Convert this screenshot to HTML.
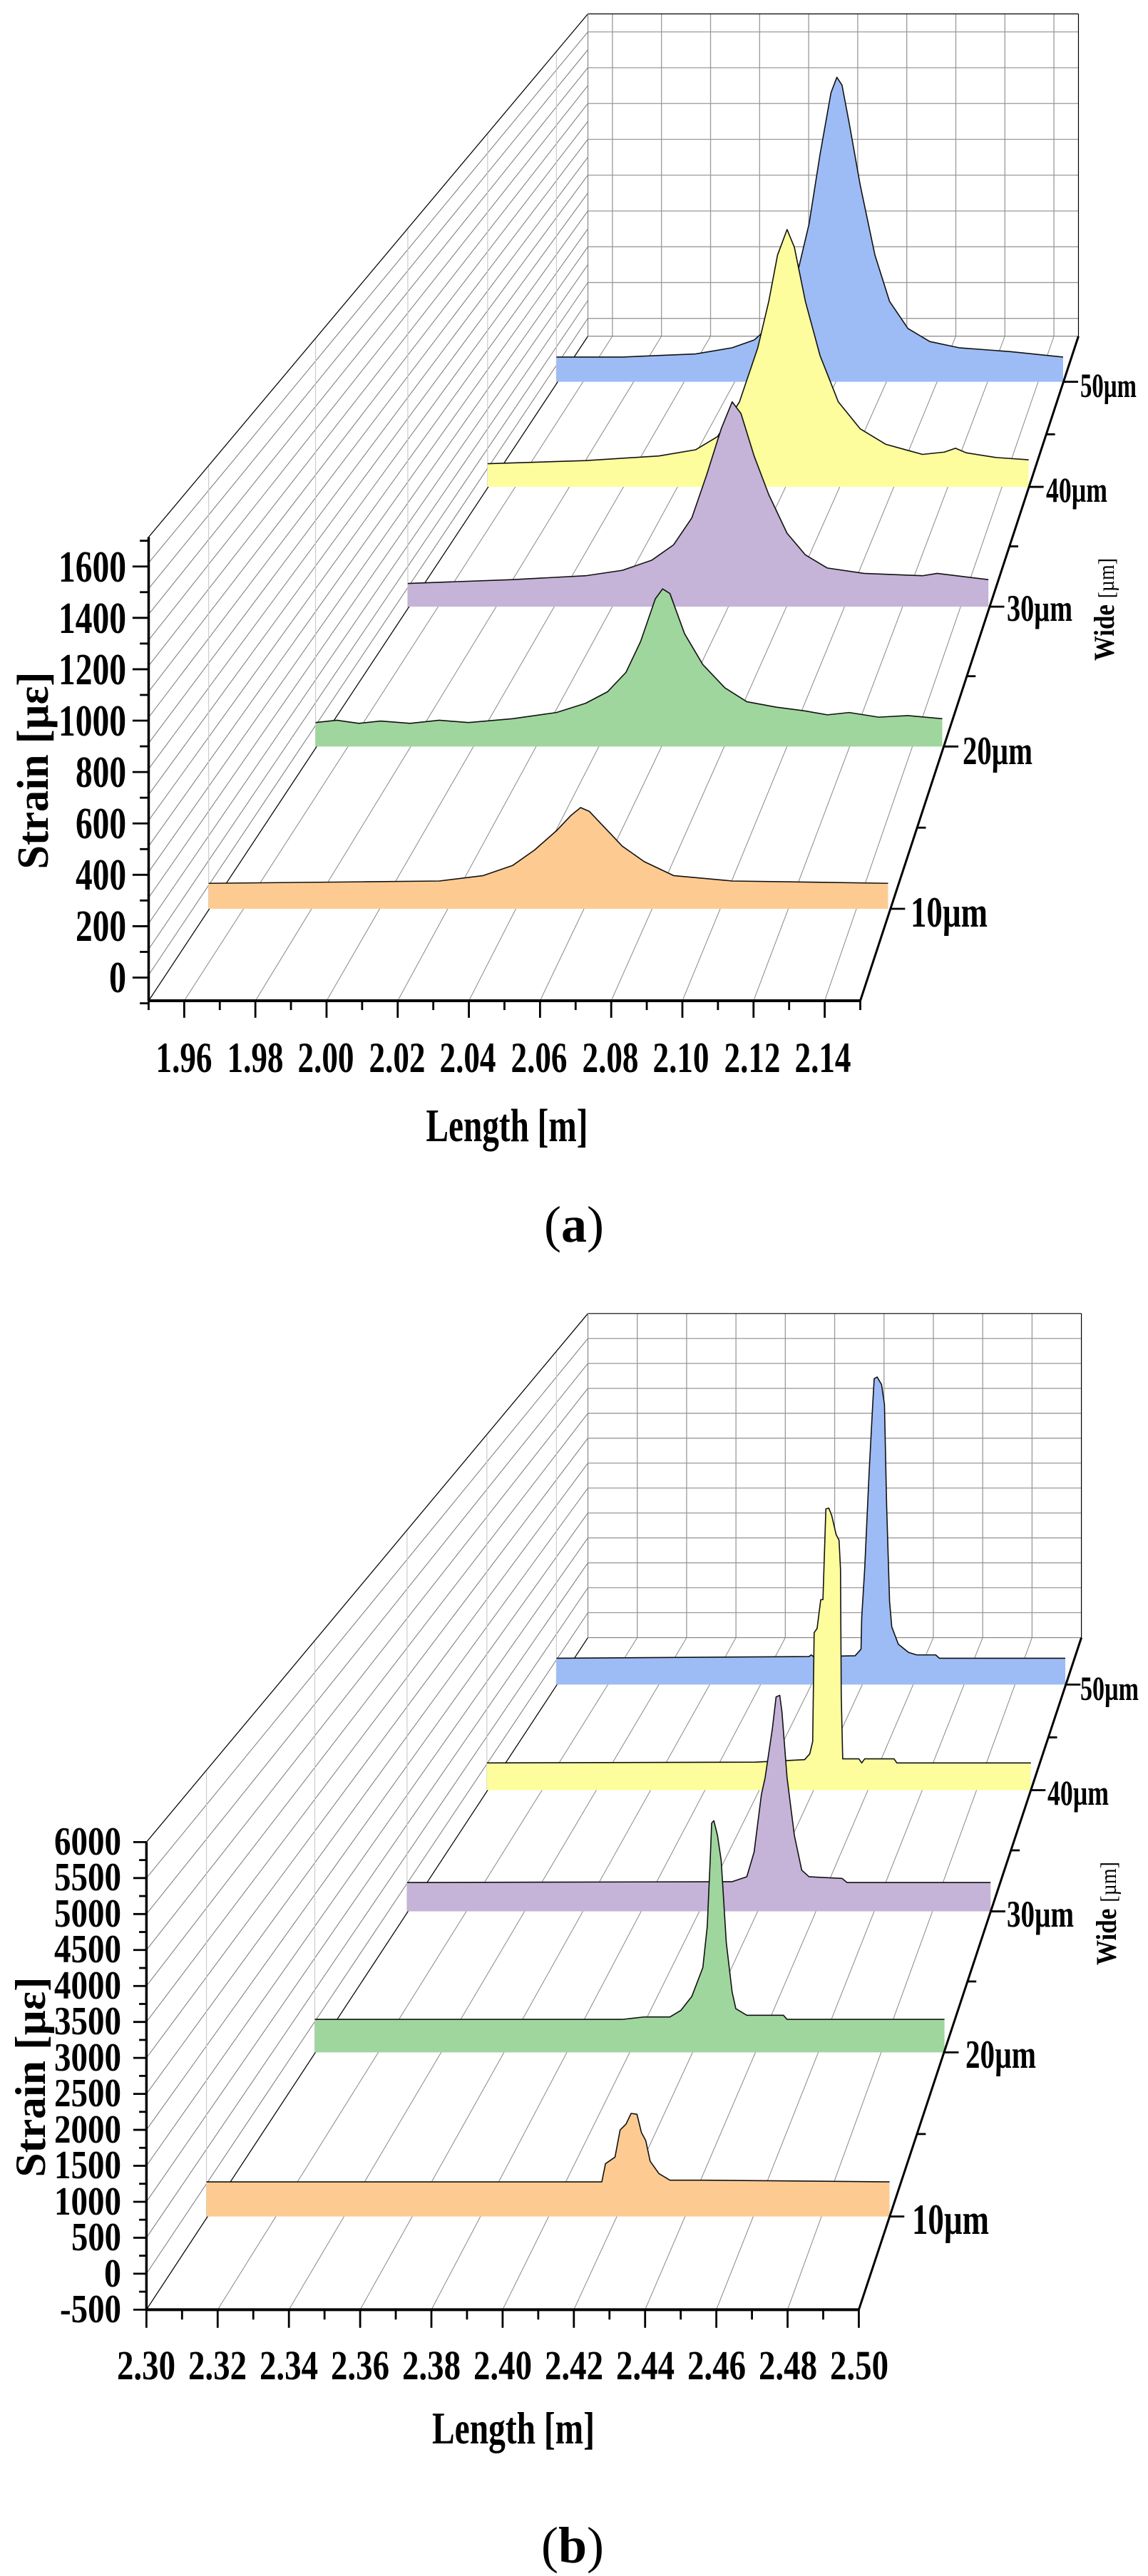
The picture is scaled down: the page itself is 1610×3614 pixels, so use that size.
<!DOCTYPE html>
<html><head><meta charset="utf-8">
<style>
html,body{margin:0;padding:0;background:#fff;}
svg{display:block;}
text{font-family:"Liberation Serif",serif;font-weight:bold;fill:#000;}
</style></head>
<body>
<svg id="s" width="1610" height="3614" viewBox="0 0 1610 3614" xmlns="http://www.w3.org/2000/svg">
<rect width="1610" height="3614" fill="#fff"/>
<g id="ga" transform="scale(1.0268,1.0842)"></g>
<g id="gb" transform="translate(0,1800) scale(1.0268,1.1569)"></g>

<g font-size="62" text-anchor="end">
<text x="177" y="1392" textLength="24" lengthAdjust="spacingAndGlyphs">0</text>
<text x="177" y="1320" textLength="71" lengthAdjust="spacingAndGlyphs">200</text>
<text x="177" y="1248" textLength="71" lengthAdjust="spacingAndGlyphs">400</text>
<text x="177" y="1176" textLength="71" lengthAdjust="spacingAndGlyphs">600</text>
<text x="177" y="1104" textLength="71" lengthAdjust="spacingAndGlyphs">800</text>
<text x="177" y="1032" textLength="95" lengthAdjust="spacingAndGlyphs">1000</text>
<text x="177" y="960" textLength="95" lengthAdjust="spacingAndGlyphs">1200</text>
<text x="177" y="888" textLength="95" lengthAdjust="spacingAndGlyphs">1400</text>
<text x="177" y="816" textLength="95" lengthAdjust="spacingAndGlyphs">1600</text>
</g>
<g font-size="60" text-anchor="middle">
<text x="258" y="1504" textLength="79" lengthAdjust="spacingAndGlyphs">1.96</text>
<text x="358" y="1504" textLength="79" lengthAdjust="spacingAndGlyphs">1.98</text>
<text x="457" y="1504" textLength="79" lengthAdjust="spacingAndGlyphs">2.00</text>
<text x="557" y="1504" textLength="79" lengthAdjust="spacingAndGlyphs">2.02</text>
<text x="656" y="1504" textLength="79" lengthAdjust="spacingAndGlyphs">2.04</text>
<text x="756" y="1504" textLength="79" lengthAdjust="spacingAndGlyphs">2.06</text>
<text x="856" y="1504" textLength="79" lengthAdjust="spacingAndGlyphs">2.08</text>
<text x="955" y="1504" textLength="79" lengthAdjust="spacingAndGlyphs">2.10</text>
<text x="1055" y="1504" textLength="79" lengthAdjust="spacingAndGlyphs">2.12</text>
<text x="1154" y="1504" textLength="79" lengthAdjust="spacingAndGlyphs">2.14</text>
</g>
<text x="711" y="1601" font-size="66" text-anchor="middle" textLength="227" lengthAdjust="spacingAndGlyphs">Length [m]</text>
<text transform="translate(67,1081) rotate(-90)" font-size="62" text-anchor="middle" textLength="277" lengthAdjust="spacingAndGlyphs">Strain [µε]</text>
<text transform="translate(1562,927) rotate(-90)" font-size="40" textLength="144" lengthAdjust="spacingAndGlyphs">Wide <tspan font-weight="normal" font-size="32">[µm]</tspan></text>
<text x="1515" y="557" font-size="48" textLength="79" lengthAdjust="spacingAndGlyphs">50µm</text>
<text x="1467" y="704" font-size="50" textLength="86" lengthAdjust="spacingAndGlyphs">40µm</text>
<text x="1412" y="871" font-size="53" textLength="92" lengthAdjust="spacingAndGlyphs">30µm</text>
<text x="1350" y="1072" font-size="56" textLength="98" lengthAdjust="spacingAndGlyphs">20µm</text>
<text x="1277" y="1300" font-size="60" textLength="108" lengthAdjust="spacingAndGlyphs">10µm</text>
<text x="805" y="1742" font-size="72" text-anchor="middle"><tspan font-weight="normal">(</tspan>a<tspan font-weight="normal">)</tspan></text>

<g font-size="56" text-anchor="end">
<text x="170" y="2602" textLength="94" lengthAdjust="spacingAndGlyphs">6000</text>
<text x="170" y="2652" textLength="94" lengthAdjust="spacingAndGlyphs">5500</text>
<text x="170" y="2703" textLength="94" lengthAdjust="spacingAndGlyphs">5000</text>
<text x="170" y="2753" textLength="94" lengthAdjust="spacingAndGlyphs">4500</text>
<text x="170" y="2804" textLength="94" lengthAdjust="spacingAndGlyphs">4000</text>
<text x="170" y="2854" textLength="94" lengthAdjust="spacingAndGlyphs">3500</text>
<text x="170" y="2905" textLength="94" lengthAdjust="spacingAndGlyphs">3000</text>
<text x="170" y="2955" textLength="94" lengthAdjust="spacingAndGlyphs">2500</text>
<text x="170" y="3006" textLength="94" lengthAdjust="spacingAndGlyphs">2000</text>
<text x="170" y="3056" textLength="94" lengthAdjust="spacingAndGlyphs">1500</text>
<text x="170" y="3107" textLength="94" lengthAdjust="spacingAndGlyphs">1000</text>
<text x="170" y="3157" textLength="70" lengthAdjust="spacingAndGlyphs">500</text>
<text x="170" y="3208" textLength="24" lengthAdjust="spacingAndGlyphs">0</text>
<text x="170" y="3258" textLength="86" lengthAdjust="spacingAndGlyphs">-500</text>
</g>
<g font-size="58" text-anchor="middle">
<text x="205" y="3338" textLength="82" lengthAdjust="spacingAndGlyphs">2.30</text>
<text x="305" y="3338" textLength="82" lengthAdjust="spacingAndGlyphs">2.32</text>
<text x="405" y="3338" textLength="82" lengthAdjust="spacingAndGlyphs">2.34</text>
<text x="505" y="3338" textLength="82" lengthAdjust="spacingAndGlyphs">2.36</text>
<text x="605" y="3338" textLength="82" lengthAdjust="spacingAndGlyphs">2.38</text>
<text x="705" y="3338" textLength="82" lengthAdjust="spacingAndGlyphs">2.40</text>
<text x="805" y="3338" textLength="82" lengthAdjust="spacingAndGlyphs">2.42</text>
<text x="905" y="3338" textLength="82" lengthAdjust="spacingAndGlyphs">2.44</text>
<text x="1005" y="3338" textLength="82" lengthAdjust="spacingAndGlyphs">2.46</text>
<text x="1105" y="3338" textLength="82" lengthAdjust="spacingAndGlyphs">2.48</text>
<text x="1205" y="3338" textLength="82" lengthAdjust="spacingAndGlyphs">2.50</text>
</g>
<text x="720" y="3428" font-size="64" text-anchor="middle" textLength="228" lengthAdjust="spacingAndGlyphs">Length [m]</text>
<text transform="translate(63,2914) rotate(-90)" font-size="60" text-anchor="middle" textLength="281" lengthAdjust="spacingAndGlyphs">Strain [µε]</text>
<text transform="translate(1565,2757) rotate(-90)" font-size="40" textLength="145" lengthAdjust="spacingAndGlyphs">Wide <tspan font-weight="normal" font-size="32">[µm]</tspan></text>
<text x="1515" y="2385" font-size="48" textLength="82" lengthAdjust="spacingAndGlyphs">50µm</text>
<text x="1469" y="2532" font-size="50" textLength="86" lengthAdjust="spacingAndGlyphs">40µm</text>
<text x="1412" y="2703" font-size="53" textLength="94" lengthAdjust="spacingAndGlyphs">30µm</text>
<text x="1354" y="2901" font-size="56" textLength="99" lengthAdjust="spacingAndGlyphs">20µm</text>
<text x="1279" y="3134" font-size="60" textLength="108" lengthAdjust="spacingAndGlyphs">10µm</text>
<text x="803" y="3595" font-size="72" text-anchor="middle"><tspan font-weight="normal">(</tspan>b<tspan font-weight="normal">)</tspan></text>
</svg>
<script>
(function(){
var NS="http://www.w3.org/2000/svg";
function L(g,x1,y1,x2,y2,c,w){var e=document.createElementNS(NS,"line");e.setAttribute("x1",x1);e.setAttribute("y1",y1);e.setAttribute("x2",x2);e.setAttribute("y2",y2);e.setAttribute("stroke",c);e.setAttribute("stroke-width",w);e.setAttribute("vector-effect","non-scaling-stroke");g.appendChild(e);}
function R(g,pts,fill){var p=document.createElementNS(NS,"polygon");p.setAttribute("points",pts);p.setAttribute("fill",fill);g.appendChild(p);}
function P(g,pts){var p=document.createElementNS(NS,"polyline");p.setAttribute("points",pts);p.setAttribute("fill","none");p.setAttribute("stroke","#111");p.setAttribute("stroke-width","1.6");p.setAttribute("stroke-linejoin","round");p.setAttribute("vector-effect","non-scaling-stroke");g.appendChild(p);}
function series(g,curve,bottom,fill){var c=curve.trim().split(/\s+/);var f=c[0].split(",")[0],l=c[c.length-1].split(",")[0];R(g,curve+" "+l+","+bottom+" "+f+","+bottom,fill);P(g,curve);}
function build(g,o){
 var fx=o.fx,fy0=o.fy0,fy1=o.fy1,bx0=o.bx0,bx1=o.bx1,by0=o.by0,by1=o.by1,ax1=o.ax1;
 for(var i=0;i<=o.nw;i++){var t=i/o.nw;L(g,fx,fy0+(fy1-fy0)*t,bx0,by0+(by1-by0)*t,"#777",1);}
 for(var i=0;i<o.bh.length;i++)L(g,bx0,o.bh[i],bx1,o.bh[i],"#999",1.3);
 for(var i=0;i<o.bv.length;i++)L(g,o.bv[i],by0,o.bv[i],by1,"#999",1.3);
 for(var i=0;i<o.fl.length;i++)L(g,o.fl[i][0],fy1,o.fl[i][1],by1,"#888",1);
 for(var i=0;i<o.wv.length;i++){var x=o.wv[i],t=(x-fx)/(bx0-fx);L(g,x,fy0+(by0-fy0)*t,x,fy1+(by1-fy1)*t,"#ccc",1.2);}
 L(g,fx,fy0,bx0,by0,"#000",1.2);L(g,fx,fy1,bx0,by1,"#000",1.2);
 L(g,bx0,by0,bx1,by0,"#000",1.2);L(g,bx1,by0,bx1,by1,"#000",1.2);
 L(g,bx0,by0,bx0,by1,"#888",1.2);L(g,bx0,by1,bx1,by1,"#888",1.2);
 for(var i=0;i<o.s.length;i++)series(g,o.s[i][0],o.s[i][1],o.s[i][2]);
 L(g,fx,fy0,fx,fy1,"#000",3.5);L(g,fx,fy1,ax1,fy1,"#000",4);L(g,ax1,fy1,bx1,by1,"#000",3);
 for(var i=0;i<o.yt.length;i++){var y=o.yt[i][0];L(g,fx-o.yt[i][1],y,fx,y,"#000",2.8);}
 for(var i=0;i<o.xt.length;i++){var x=o.xt[i][0];L(g,x,fy1,x,fy1+o.xt[i][1],"#000",2.8);}
 for(var i=0;i<o.dt.length;i++){var y=o.dt[i][0],x=ax1+(fy1-y)/(fy1-by1)*(bx1-ax1);L(g,x,y,x+o.dt[i][1],y,"#000",2.8);}
}
var a={fx:203,fy0:695,fy1:1295,bx0:803,bx1:1473,by0:18,by1:435,ax1:1175,nw:18,bh:[],bv:[],fl:[],wv:[285,431,557,666,760],yt:[],xt:[],dt:[]};
for(var v=0;v<=1600;v+=200)a.bh.push(412-v*0.2317);
for(var k=0;k<10;k++){a.bv.push(836.5+67*k);a.fl.push([251.6+97.2*k,836.5+67*k]);}
for(var v=-100;v<=1700;v+=100){a.yt.push([1265-v*0.3325,(v%200==0)?22:12]);}
for(var k=0;k<=20;k++){a.xt.push([203+48.6*k,(k%2==1)?22:12]);}
a.dt=[[1176,20],[1071,12],[966,20],[875,12],[785,20],[707,12],[630,20],[562,12],[494,20]];
a.s=[
["760,462 850,462 950,458 1000,450 1030,440 1060,415 1085,370 1105,290 1120,200 1135,120 1143,100 1150,110 1160,160 1175,240 1195,330 1215,390 1240,425 1270,442 1310,450 1380,455 1452,462",494,"#9dbcf5"],
["666,600 800,596 900,590 950,582 980,565 1010,520 1035,450 1050,390 1062,330 1075,297 1085,320 1100,390 1120,460 1145,520 1175,555 1210,575 1260,588 1290,585 1305,580 1320,586 1360,592 1405,595",630,"#fdfd9e"],
["557,755 700,750 800,745 850,738 890,725 920,705 945,670 965,615 985,555 1000,520 1012,535 1030,590 1050,640 1075,690 1100,718 1130,735 1180,742 1260,745 1280,742 1350,750",785,"#c5b3d8"],
["431,935 460,932 490,936 520,933 560,936 600,932 640,935 700,930 760,922 800,910 830,895 855,870 875,830 895,775 905,762 915,768 935,820 960,860 990,890 1020,908 1060,915 1100,920 1130,925 1160,922 1200,928 1240,926 1287,930",966,"#9fd69d"],
["285,1143 500,1141 600,1140 660,1133 700,1120 730,1100 760,1075 780,1055 793,1045 805,1050 825,1070 850,1095 880,1115 920,1133 1000,1140 1213,1143",1176,"#fdcb92"]];
build(document.getElementById("ga"),a);
var b={fx:200,fy0:678,fy1:1245,bx0:803,bx1:1477,by0:37,by1:430,ax1:1173,nw:13,bh:[],bv:[],fl:[],wv:[282,430,556,665,760],yt:[],xt:[],dt:[]};
for(var i=1;i<13;i++)b.bh.push(37+i*393/13);
for(var k=1;k<10;k++){b.bv.push(803+67.4*k);b.fl.push([200+97.3*k,803+67.4*k]);}
for(var i=0;i<=26;i++){b.yt.push([678+i*567/26,(i%2==0)?18:10]);}
for(var k=0;k<=20;k++){b.xt.push([200+48.65*k,(k%2==0)?22:12]);}
b.dt=[[1132,20],[1032,12],[933,20],[847,12],[762,20],[688,12],[615,20],[551,12],[487,20]];
b.s=[
["760,455 1105,453 1108,451 1111,453 1168,452 1176,444 1177,405 1181,347 1187,231 1192,147 1194,116 1198,114 1204,123 1208,147 1211,270 1215,386 1218,417 1227,438 1241,448 1252,451 1278,451 1283,455 1455,455",487,"#9dbcf5"],
["665,582 1032,581 1099,578 1106,571 1110,556 1112,424 1116,419 1121,384 1124,384 1128,274 1132,273 1136,282 1142,305 1146,312 1148,347 1149,501 1151,577 1159,577 1173,577 1177,582 1181,577 1221,577 1225,582 1408,582",615,"#fdfd9e"],
["556,727 1000,726 1020,720 1030,690 1040,620 1045,600 1055,540 1060,502 1065,500 1068,520 1075,600 1085,670 1095,712 1105,720 1150,722 1157,727 1353,727",762,"#c5b3d8"],
["430,893 850,893 880,890 915,890 930,882 945,865 960,830 966,780 970,700 972,655 975,652 980,670 985,700 992,800 1000,860 1005,880 1020,888 1070,888 1075,893 1290,893",933,"#9fd69d"],
["282,1090 822,1090 827,1068 840,1060 847,1027 855,1020 862,1007 870,1008 876,1030 882,1040 888,1065 900,1080 915,1088 960,1088 1215,1090",1132,"#fdcb92"]];
build(document.getElementById("gb"),b);
})();
</script>
</body></html>
